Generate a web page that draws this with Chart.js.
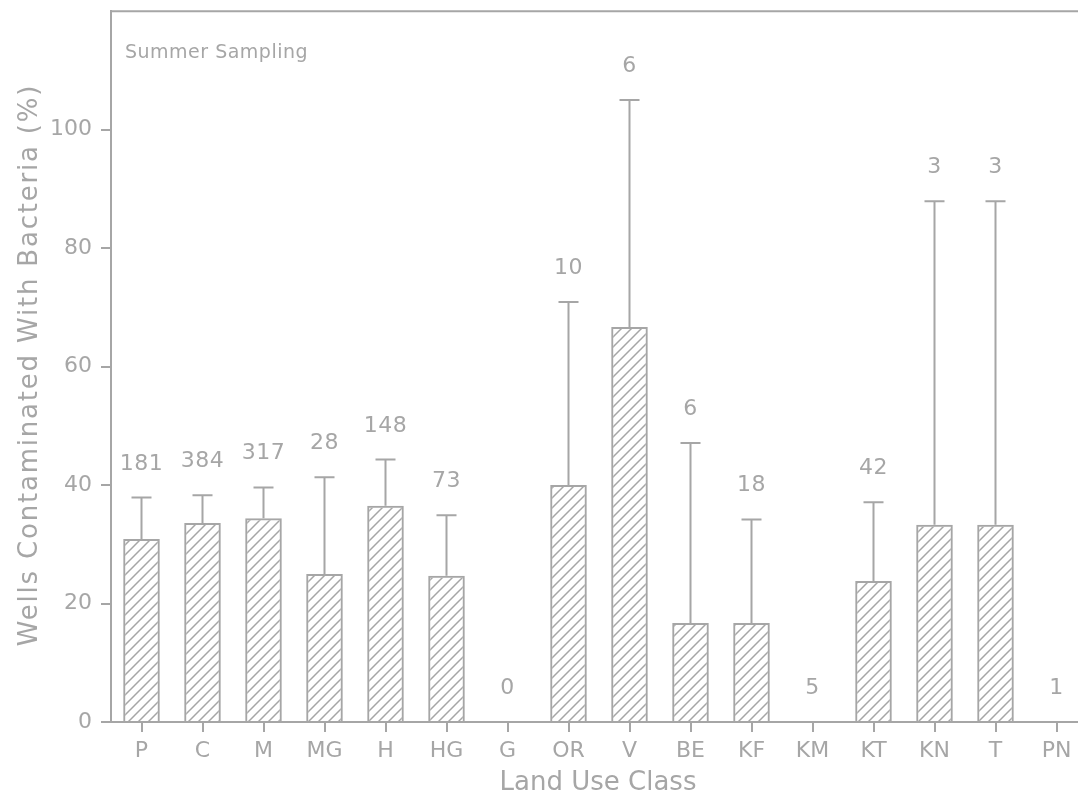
<!DOCTYPE html>
<html>
<head>
<meta charset="utf-8">
<script src="https://cdn.jsdelivr.net/npm/chart.js@4.4.0/dist/chart.umd.min.js"></script>
<style>
  html, body { margin: 0; padding: 0; background: #fff; overflow: hidden; }
  #wrap { width: 1078px; height: 795px; overflow: hidden; }
</style>
</head>
<body>
<div id="wrap"><canvas id="myChart" width="1090" height="795"></canvas></div>
<script>
// land use classes
const landUse = ["P", "C", "M", "MG", "H", "HG", "G", "OR", "V", "BE", "KF", "KM", "KT", "KN", "T", "PN"];
// percent of wells contaminated
const pctWells = [30.9, 33.6, 34.4, 25.0, 36.5, 24.7, 0, 40.0, 66.7, 16.7, 16.7, 0, 23.8, 33.3, 33.3, 0];
// top of the error bar
const errUpper = [37.9, 38.3, 39.6, 41.3, 44.3, 34.9, null, 70.9, 105.0, 47.1, 34.2, null, 37.1, 87.9, 87.9, null];
// number of wells sampled
const wellCounts = ["181", "384", "317", "28", "148", "73", "0", "10", "6", "6", "18", "5", "42", "3", "3", "1"];
const yTicks = [0, 20, 40, 60, 80, 100];

const gray = "#a6a6a6";
const fontFam = '"DejaVu Sans", sans-serif';

// diagonal hatch
function makeHatch() {
  let c = document.createElement("canvas");
  c.width = 10;
  c.height = 10;
  let g = c.getContext("2d");
  g.strokeStyle = gray;
  g.lineWidth = 1.5;
  g.beginPath();
  g.moveTo(-1, 11); g.lineTo(11, -1);
  g.moveTo(-6, 6); g.lineTo(6, -6);
  g.moveTo(4, 16); g.lineTo(16, 4);
  g.stroke();
  return g.createPattern(c, "repeat");
}

const extras = {
  id: "extras",
  afterDatasetsDraw(chart) {
    const ctx = chart.ctx;
    const area = chart.chartArea;
    const y = chart.scales.y;
    const meta = chart.getDatasetMeta(0);
    ctx.save();
    ctx.strokeStyle = gray;
    ctx.fillStyle = gray;
    ctx.lineWidth = 2;
    // top frame line
    ctx.beginPath();
    ctx.moveTo(area.left, area.top);
    ctx.lineTo(area.right + 5, area.top);
    ctx.stroke();
    ctx.font = "22px " + fontFam;
    ctx.letterSpacing = "0.5px";
    ctx.textAlign = "center";
    ctx.textBaseline = "alphabetic";
    for (let i = 0; i < landUse.length; i++) {
      const x = meta.data[i].x;
      let top = y.getPixelForValue(pctWells[i]);
      if (errUpper[i] !== null) {
        const yb = y.getPixelForValue(pctWells[i]);
        top = y.getPixelForValue(errUpper[i]);
        ctx.beginPath();
        ctx.moveTo(x, yb);
        ctx.lineTo(x, top);
        ctx.moveTo(x - 10, top);
        ctx.lineTo(x + 10, top);
        ctx.stroke();
      }
      ctx.fillText(wellCounts[i], x, top - 28);
    }
    ctx.textAlign = "left";
    ctx.font = "19px " + fontFam;
    ctx.letterSpacing = "0.5px";
    ctx.fillText("Summer Sampling", area.left + 14, 58);

    // axis titles
    ctx.font = "26px " + fontFam;
    ctx.textAlign = "center";
    ctx.letterSpacing = "0px";
    ctx.fillText("Land Use Class", 598, 790);
    ctx.translate(37, 365);
    ctx.rotate(-Math.PI / 2);
    ctx.letterSpacing = "1.8px";
    ctx.fillText("Wells Contaminated With Bacteria (%)", 0, 0);
    ctx.restore();
  }
};

let ctx = document.getElementById("myChart").getContext("2d");
let chart = new Chart(ctx, {
  type: "bar",
  data: {
    labels: landUse,
    datasets: [
      {
        label: "Summer Sampling",
        data: pctWells,
        backgroundColor: makeHatch(),
        borderColor: gray,
        borderWidth: 2,
        barPercentage: 0.6,
        categoryPercentage: 1.0
      }
    ]
  },
  options: {
    responsive: false,
    animation: false,
    layout: { padding: { top: 8, right: 3, left: 0, bottom: 0 } },
    plugins: {
      legend: { display: false },
      tooltip: { enabled: false }
    },
    scales: {
      x: {
        grid: {
          offset: false,
          drawOnChartArea: false,
          color: gray,
          lineWidth: 2,
          tickLength: 10
        },
        border: { color: gray, width: 2 },
        ticks: {
          color: gray,
          padding: 6,
          font: { family: fontFam, size: 22 }
        },
        afterFit: s => { s.height = 73; }
      },
      y: {
        min: 0,
        max: 120,
        afterBuildTicks: s => {
          s.ticks = yTicks.map(v => ({ value: v }));
        },
        grid: {
          drawOnChartArea: false,
          color: gray,
          lineWidth: 2,
          tickLength: 10
        },
        border: { color: gray, width: 2 },
        ticks: {
          color: gray,
          padding: 9,
          font: { family: fontFam, size: 22, lineHeight: 0.2 }
        },
        afterFit: s => { s.width = 111; }
      }
    }
  },
  plugins: [extras]
});
</script>
</body>
</html>
